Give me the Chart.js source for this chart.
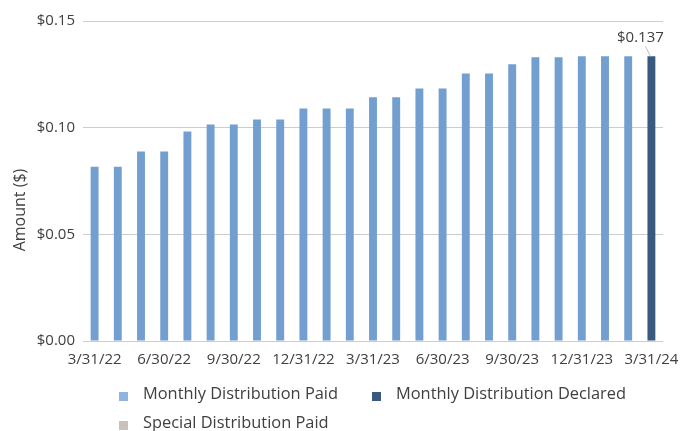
<!DOCTYPE html>
<html>
<head>
<meta charset="utf-8">
<script src="https://cdn.jsdelivr.net/npm/chart.js@4"></script>
<style>
  html, body { margin: 0; padding: 0; background: #fff; }
  #wrap { position: relative; width: 692px; height: 431px; }
  #legend { position: absolute; left: 0; top: 0; width: 692px; height: 431px; pointer-events: none;
            font-family: "Open Sans", "Noto Sans", sans-serif; font-size: 16.4px; color: #404040; }
  .li { position: absolute; white-space: nowrap; line-height: 20px; }
  .sw { position: absolute; width: 9px; height: 9px; }
</style>
</head>
<body>
<div id="wrap">
  <canvas id="c" width="692" height="431"></canvas>
  <div id="legend"></div>
</div>
<script>
const categories = ["3/31/22","4/30/22","5/31/22","6/30/22","7/31/22","8/31/22","9/30/22","10/31/22","11/30/22",
  "12/31/22","1/31/23","2/28/23","3/31/23","4/30/23","5/31/23","6/30/23","7/31/23","8/31/23","9/30/23",
  "10/31/23","11/30/23","12/31/23","1/31/24","2/29/24","3/31/24"];
const monthlyPaid = [0.0817,0.0817,0.0888,0.0888,0.0982,0.1015,0.1015,0.1038,0.1038,0.109,0.109,0.109,
  0.1142,0.1142,0.1184,0.1184,0.1254,0.1254,0.1297,0.133,0.133,0.1335,0.1335,0.1335,null];
const monthlyDeclared = [null,null,null,null,null,null,null,null,null,null,null,null,null,null,null,null,
  null,null,null,null,null,null,null,null,0.1335];
const specialPaid = [null,null,null,null,null,null,null,null,null,null,null,null,null,null,null,null,
  null,null,null,null,null,null,null,null,null];
const declaredLabel = "$0.137";
const yTicks = [0, 0.05, 0.10, 0.15];
const seriesNames = ["Monthly Distribution Paid","Monthly Distribution Declared","Special Distribution Paid"];
const seriesColors = ["#729fcf","#375a7e","#c9c1ba"];
const legendSwatchColors = ["#8fb4df","#375a7e","#c9c1ba"];

const FONT = '"Open Sans", "Noto Sans", sans-serif';
const TXT = '#404040';

const labelPlugin = {
  id: 'declaredLabel',
  afterDatasetsDraw(chart) {
    const meta = chart.getDatasetMeta(1);
    const idx = monthlyDeclared.findIndex(v => v !== null);
    const el = meta.data[idx];
    if (!el) return;
    const ctx = chart.ctx;
    ctx.save();
    ctx.strokeStyle = '#c0c0c0';
    ctx.lineWidth = 1;
    ctx.beginPath();
    ctx.moveTo(el.x - 6, el.y - 10);
    ctx.lineTo(el.x - 1, el.y);
    ctx.stroke();
    ctx.fillStyle = TXT;
    ctx.font = '15px ' + FONT;
    ctx.textAlign = 'center';
    ctx.textBaseline = 'middle';
    ctx.fillText(declaredLabel, el.x - 11, el.y - 18);
    ctx.restore();
  }
};

const yTitlePlugin = {
  id: 'yTitle',
  afterDraw(chart) {
    const ctx = chart.ctx;
    ctx.save();
    ctx.translate(20, 210);
    ctx.rotate(-Math.PI / 2);
    ctx.fillStyle = TXT;
    ctx.font = '16px ' + FONT;
    ctx.textAlign = 'center';
    ctx.textBaseline = 'middle';
    ctx.fillText('Amount ($)', 0, 0);
    ctx.restore();
  }
};

const chart = new Chart(document.getElementById('c'), {
  type: 'bar',
  data: {
    labels: categories,
    datasets: [
      { label: seriesNames[0], data: monthlyPaid, backgroundColor: seriesColors[0] },
      { label: seriesNames[1], data: monthlyDeclared, backgroundColor: seriesColors[1] },
      { label: seriesNames[2], data: specialPaid, backgroundColor: seriesColors[2] }
    ]
  },
  options: {
    responsive: false,
    animation: false,
    devicePixelRatio: 1,
    datasets: { bar: { categoryPercentage: 1, barPercentage: 0.34 } },
    layout: { padding: { top: 21, right: 29, bottom: 60, left: 0 } },
    plugins: { legend: { display: false }, tooltip: { enabled: false } },
    scales: {
      x: {
        stacked: true,
        grid: { display: false },
        border: { display: false },
        ticks: {
          autoSkip: false, maxRotation: 0, minRotation: 0, padding: 2,
          color: TXT, font: { family: FONT, size: 15 },
          callback: function(v, i) { return i % 3 === 0 ? categories[i] : ''; }
        },
        afterFit(s) { s.height = 30; }
      },
      y: {
        stacked: true,
        min: 0, max: 0.15,
        afterBuildTicks(s) { s.ticks = yTicks.map(v => ({ value: v })); },
        grid: { color: '#cccccc', lineWidth: 1, drawTicks: false },
        border: { display: false },
        ticks: {
          padding: 8, color: TXT, font: { family: FONT, size: 15 },
          callback: v => '$' + Number(v).toFixed(2)
        },
        afterFit(s) { s.width = 83; }
      }
    }
  },
  plugins: [labelPlugin, yTitlePlugin]
});

// Legend built from the chart's datasets
const lg = document.getElementById('legend');
const pos = [[119, 393], [372, 393], [119, 422]];
chart.data.datasets.forEach((ds, i) => {
  const sw = document.createElement('div');
  sw.className = 'sw';
  sw.style.background = legendSwatchColors[i];
  sw.style.left = pos[i][0] + 'px';
  sw.style.top = (pos[i][1] - 1) + 'px';
  lg.appendChild(sw);
  const t = document.createElement('div');
  t.className = 'li';
  t.textContent = ds.label;
  t.style.left = (pos[i][0] + 24) + 'px';
  t.style.top = (pos[i][1] - 10) + 'px';
  lg.appendChild(t);
});
</script>
</body>
</html>
